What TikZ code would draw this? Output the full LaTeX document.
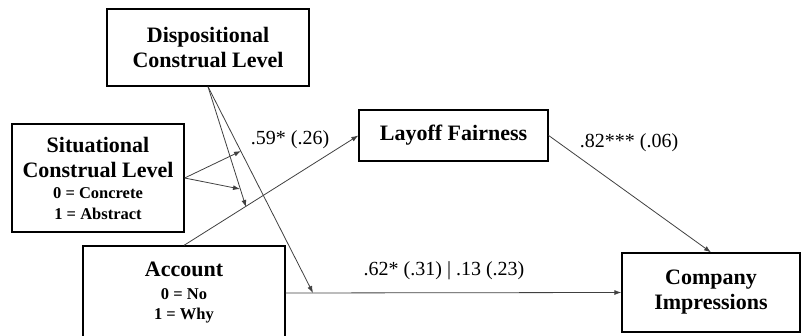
\documentclass[tikz,border=0pt]{standalone}
\usepackage{fontspec}
\setmainfont{Liberation Serif}
\usetikzlibrary{arrows.meta}
\newcommand{\bigtxt}{\fontsize{22}{25}\selectfont\bfseries}
\newcommand{\smalltxt}{\fontsize{16.5}{21}\selectfont\bfseries}
\begin{document}
\begin{tikzpicture}[
    x=1pt,y=-1pt,
    box/.style={draw,line width=1.3pt,align=center,inner sep=0pt,font=\bigtxt},
    path/.style={->,line width=0.8pt,draw=black!75},
    lbl/.style={font=\fontsize{20}{22}\selectfont},
    >={Latex[length=7pt,width=5pt]}
]
\useasboundingbox (0,0) rectangle (801,336);
\node[box,minimum width=202pt,minimum height=77pt] (disp) at (208,47.5)
    {Dispositional\\Construal Level};
\node[box,minimum width=172pt,minimum height=108pt] (sit) at (98,178)
    {Situational\\Construal Level\\[-4pt]\smalltxt 0 = Concrete\\[-4pt]\smalltxt 1 = Abstract};
\node[box,minimum width=202pt,minimum height=94pt] (account) at (184,293)
    {Account\\[-2pt]\smalltxt 0 = No\\[-5pt]\smalltxt 1 = Why};
\node[box,minimum width=189pt,minimum height=51pt] (layoff) at (453.5,135.5)
    {Layoff Fairness};
\node[box,minimum width=178pt,minimum height=79pt] (company) at (711,292.5)
    {Company\\Impressions};

% points where the moderator arrows meet the paths
\coordinate (onA) at (246,207);
\coordinate (onC) at (313,293);
\coordinate (onCup) at (241,151);

\draw[path] (account.north) -- (layoff.west);
\draw[path] (account.east) -- (company.west);
\draw[path] (layoff.east) -- (company.north);
\draw[path] (disp.south) -- (onA);
\draw[path] (disp.south) -- (onC);
\draw[path] (sit.east) -- (onCup);
\draw[path] (sit.east) -- (240,189);

\node[lbl] (lab59) at (290,140) {.59* (.26)};
\node[lbl] (lab82) at (629,143) {.82*** (.06)};
\node[lbl] (lab62) at (444,271) {.62* (.31) | .13 (.23)};
\end{tikzpicture}
\end{document}
